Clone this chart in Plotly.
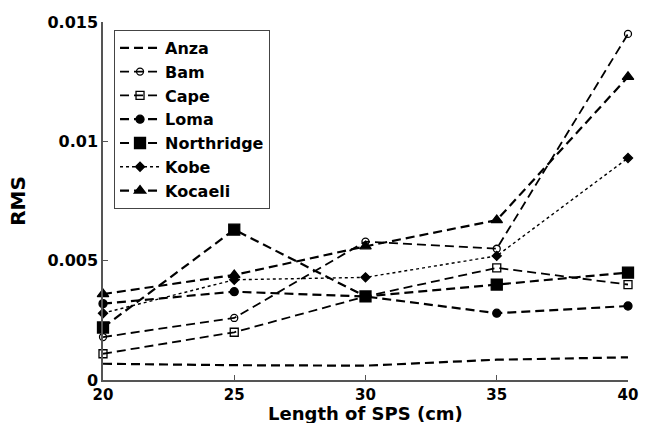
import plotly.graph_objects as go

# Sensor length (cm)
lengths = [20, 25, 30, 35, 40]

# RMS error per earthquake record
anza = [0.00068, 0.00062, 0.00060, 0.00085, 0.00095]
bam = [0.0018, 0.0026, 0.0058, 0.0055, 0.0145]
cape = [0.0011, 0.0020, 0.0035, 0.0047, 0.0040]
loma = [0.0032, 0.0037, 0.0035, 0.0028, 0.0031]
northridge = [0.0022, 0.0063, 0.0035, 0.0040, 0.0045]
kobe = [0.0028, 0.0042, 0.0043, 0.0052, 0.0093]
kocaeli = [0.0036, 0.0044, 0.0056, 0.0067, 0.0127]

y_ticks = [0, 0.005, 0.01, 0.015]
y_tick_text = ["0", "0.005", "0.01", "0.015"]
x_ticks = [20, 25, 30, 35, 40]

series = [
    ("Anza", anza, "dash", None, 0, 2.2),
    ("Bam", bam, "dash", "circle-open", 7, 1.8),
    ("Cape", cape, "dash", "square-open", 8, 1.8),
    ("Loma", loma, "dash", "circle", 8, 2.2),
    ("Northridge", northridge, "dash", "square", 11, 2.2),
    ("Kobe", kobe, "dot", "diamond", 7, 1.4),
    ("Kocaeli", kocaeli, "dash", "triangle-up", 10, 2.2),
]

fig = go.Figure()
for name, vals, dash, sym, size, width in series:
    mode = "lines+markers" if sym else "lines"
    fig.add_trace(go.Scatter(
        x=lengths, y=vals, name=name, mode=mode,
        line=dict(color="black", width=width, dash=dash if dash == "dot" else "9px,5px"),
        marker=dict(symbol=sym or "circle", size=size, color="black",
                    line=dict(color="black", width=1.3)),
        cliponaxis=False,
    ))

# x-axis title placed just under the tick labels
fig.add_annotation(
    text="Length of SPS (cm)", x=0.5, y=0, xref="paper", yref="paper",
    xanchor="center", yanchor="middle", yshift=-33, showarrow=False,
    font=dict(size=18, weight="bold"), borderpad=0,
)

font_family = "DejaVu Sans, Verdana, sans-serif"
fig.update_layout(
    width=650, height=423,
    margin=dict(l=103, r=22, t=22, b=43),
    paper_bgcolor="white", plot_bgcolor="white",
    font=dict(family=font_family, size=16, color="black", weight="bold"),
    showlegend=True,
    legend=dict(
        x=0.021, y=0.978, xanchor="left", yanchor="top",
        bordercolor="#444", borderwidth=1, bgcolor="white",
        font=dict(size=16, weight="bold"),
        tracegroupgap=0, itemwidth=40,
    ),
    xaxis=dict(
        range=[20, 40], tickvals=x_ticks, ticks="inside", ticklen=5,
        tickcolor="#555", showline=True, linecolor="#555", linewidth=1.5,
        showgrid=False, zeroline=False, mirror=False, ticklabelstandoff=0,
        automargin=False,
        tickfont=dict(size=15, weight="bold"),
    ),
    yaxis=dict(
        range=[0, 0.015], tickvals=y_ticks, ticktext=y_tick_text, ticks="inside",
        ticklen=5, tickcolor="#555", showline=True, linecolor="#555", linewidth=1.5,
        showgrid=False, zeroline=False, mirror=False, automargin=False,
        title=dict(text="RMS", font=dict(size=20, weight="bold"), standoff=16),
        tickfont=dict(size=16, weight="bold"),
    ),
)

fig.write_html("out.html")
